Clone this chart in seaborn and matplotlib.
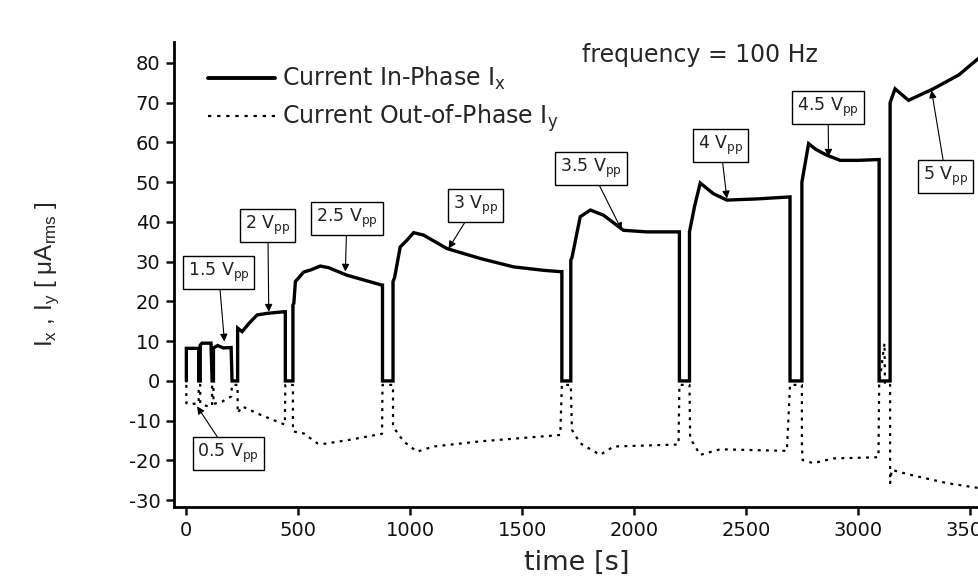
import matplotlib
matplotlib.use("Agg")
import matplotlib.pyplot as plt
import seaborn as sns
import pandas as pd
from matplotlib.lines import Line2D

# ---------------- data ----------------
time_x = [0, 0, 55, 55, 62, 62, 70, 110, 115, 121, 121, 140, 165, 200, 204,
          229, 229, 249, 280, 316, 360, 434, 442, 442, 476, 476, 480, 487, 524,
          554, 598, 635, 717, 874, 876, 876, 923, 923, 930, 955, 985, 1015,
          1059, 1164, 1313, 1461, 1600, 1670, 1677, 1677, 1717, 1717, 1722,
          1759, 1804, 1863, 1952, 2057, 2198, 2202, 2202, 2247, 2247, 2270,
          2295, 2354, 2414, 2550, 2696, 2696, 2749, 2749, 2779, 2810, 2860,
          2920, 3000, 3094, 3094, 3143, 3143, 3165, 3225, 3336, 3450, 3545]
current_ix = [0, 8.2, 8.2, 0, 0, 9.0, 9.5, 9.5, 0, 0, 8.3, 8.9, 8.3, 8.4, 0,
              0, 13.3, 12.4, 14.5, 16.6, 17.0, 17.4, 17.4, 0, 0, 19.1, 19.5,
              25.0, 27.4, 27.9, 28.9, 28.5, 26.6, 24.1, 24.1, 0, 0, 25.0, 26.0,
              33.7, 35.4, 37.3, 36.7, 33.3, 30.8, 28.7, 27.8, 27.5, 27.5, 0, 0,
              30.4, 31.0, 41.3, 43.0, 41.7, 37.9, 37.5, 37.5, 37.5, 0, 0, 37.5,
              44.0, 49.8, 47.1, 45.5, 45.8, 46.3, 0, 0, 50.0, 59.7, 58.3, 56.8,
              55.5, 55.5, 55.7, 0, 0, 70.0, 73.5, 70.6, 73.5, 77.0, 81.5]

time_y = [0, 0, 25, 55, 55, 62, 62, 90, 115, 115, 121, 121, 160, 200, 204,
          229, 229, 249, 330, 440, 442, 476, 476, 524, 585, 620, 730, 874, 876,
          923, 923, 970, 1030, 1104, 1313, 1670, 1677, 1717, 1722, 1759, 1848,
          1908, 2198, 2202, 2247, 2250, 2295, 2384, 2682, 2696, 2749, 2749,
          2752, 2800, 2890, 3091, 3094, 3118, 3120, 3143, 3143, 3150, 3232,
          3396, 3545]
current_iy = [-1, -5.6, -5.8, -5.6, -1, -1, -5.6, -6.3, -6.3, -1, -1, -5.8,
              -5.2, -3.9, -1, -1, -8.1, -6.4, -8.5, -11.0, -1, -1, -12.7, -13.2,
              -15.7, -15.8, -14.8, -13.3, -1, -1, -11.5, -15.2, -17.8, -16.5,
              -15.2, -13.6, -1, -1, -12.3, -15.7, -18.6, -16.5, -16.0, -1, -1,
              -14.4, -18.6, -17.2, -17.6, -1, -1, -16.1, -19.9, -20.7, -19.5,
              -19.2, -1, 9.5, -1, -1, -25.7, -22.4, -23.6, -25.7, -27.0]

legend_labels = [r"Current In-Phase I$_{\rm x}$", r"Current Out-of-Phase I$_{\rm y}$"]

# annotation labels, box centres (t, I) and arrow tips (t, I)
ann_labels = ["0.5", "1.5", "2", "2.5", "3", "3.5", "4", "4.5", "5"]
ann_box_t = [188, 144, 364, 717, 1290, 1807, 2386, 2866, 3392]
ann_box_i = [-18.3, 27.3, 39.2, 40.9, 44.1, 53.4, 59.3, 68.7, 51.4]
ann_tip_t = [48, 170, 368, 710, 1171, 1945, 2414, 2868, 3328]
ann_tip_i = [-6.4, 9.9, 17.4, 27.5, 33.3, 37.9, 45.9, 56.4, 73.1]

# ---------------- style ----------------
sns.set_theme(style="ticks")
plt.rcParams["font.family"] = ["DejaVu Sans"]
plt.rcParams["axes.unicode_minus"] = False
plt.rcParams["mathtext.fontset"] = "dejavusans"
plt.rcParams["mathtext.rm"] = "Liberation Sans"

fig = plt.figure(figsize=(9.79, 5.82), dpi=100)
ax = fig.add_axes([0.178, 0.129, 0.822, 0.799])

df_x = pd.DataFrame({"t": time_x, "I": current_ix})
df_y = pd.DataFrame({"t": time_y, "I": current_iy})

dot = (0, (1.3, 2.4))
sns.lineplot(data=df_x, x="t", y="I", sort=False, estimator=None, ax=ax,
             color="black", lw=2.4, solid_joinstyle="miter")
sns.lineplot(data=df_y, x="t", y="I", sort=False, estimator=None, ax=ax,
             color="black", lw=1.6, linestyle=dot)

ax.set_xlim(-54, 3540)
ax.set_ylim(-31.7, 85.3)
ax.set_xticks(range(0, 3501, 500))
ax.set_yticks(range(-30, 81, 10))
sns.despine(ax=ax)
for s in ["left", "bottom"]:
    ax.spines[s].set_linewidth(2.0)
    ax.spines[s].set_color("black")
ax.tick_params(axis="both", direction="out", length=6, width=1.8,
               labelsize=14, colors="#111111", pad=4)
ax.set_xlabel("time [s]", fontsize=19.5, labelpad=7)
ylab = ax.set_ylabel(r"I$_{\rm x}$ , I$_{\rm y}$ [ μA$_{\rm rms}$ ]",
                     fontsize=17.5, labelpad=49, family="Liberation Sans")
ylab.set_math_fontfamily("custom")

handles = [Line2D([], [], color="black", lw=2.8),
           Line2D([], [], color="black", lw=1.6, linestyle=(0, (1.5, 2.6)))]
ax.legend(handles, legend_labels, loc="upper left", bbox_to_anchor=(0.042, 0.95),
          frameon=False, fontsize=17, handlelength=2.85, handletextpad=0.3,
          labelspacing=0.42, borderpad=0, borderaxespad=0)

ax.text(2295, 82, "frequency = 100 Hz", fontsize=17, ha="center", va="center")

for lab, bt, bi, tt, ti in zip(ann_labels, ann_box_t, ann_box_i, ann_tip_t, ann_tip_i):
    ax.annotate(lab + r" V$_{\rm pp}$", xy=(tt, ti), xytext=(bt, bi),
                fontsize=12.5, ha="center", va="center", color="#222222",
                bbox=dict(boxstyle="square,pad=0.28", fc="white", ec="black", lw=1.0),
                arrowprops=dict(arrowstyle="-|>", color="black", lw=0.8,
                                mutation_scale=11, shrinkA=0, shrinkB=0))

fig.savefig("out.png", dpi=100)
